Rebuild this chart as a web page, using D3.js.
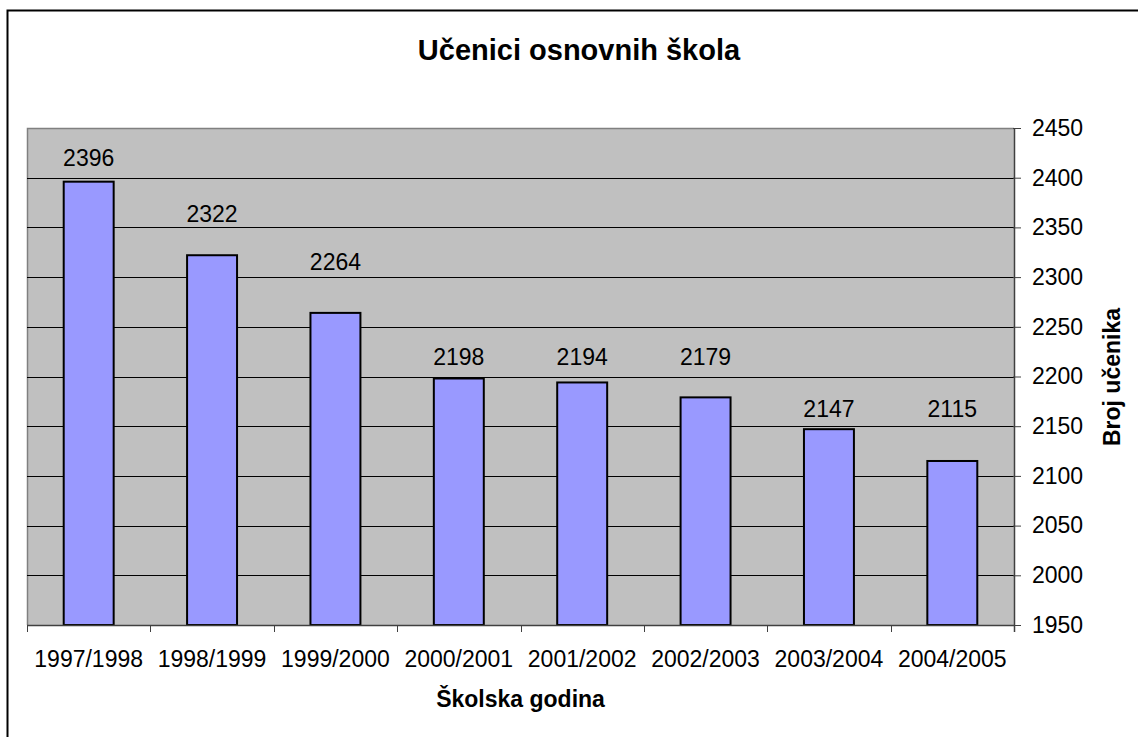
<!DOCTYPE html>
<html>
<head>
<meta charset="utf-8">
<script src="https://cdn.jsdelivr.net/npm/d3@7"></script>
<style>
  body { margin: 0; background: #fff; }
  text { font-family: Arial, "Liberation Sans", sans-serif; fill: #000; }
</style>
</head>
<body>
<div class="js-chart"></div>
<script>
let years = ['1997/1998', '1998/1999', '1999/2000', '2000/2001', '2001/2002', '2002/2003', '2003/2004', '2004/2005'];
let pupils = [2396, 2322, 2264, 2198, 2194, 2179, 2147, 2115];
// where each value label sits on the value axis
let labelLevels = [2412, 2355, 2307, 2212, 2212, 2212, 2159, 2159];
let yTicks = [1950, 2000, 2050, 2100, 2150, 2200, 2250, 2300, 2350, 2400, 2450];

let w = 1138, h = 737;
let plot = {left: 27, right: 1014, top: 128, bottom: 625};

let svg = d3.select('.js-chart').append('svg').attr('width', w).attr('height', h);

// outer frame
svg.append('rect')
  .attr('x', 7.5).attr('y', 10.5)
  .attr('width', w).attr('height', h)
  .style('fill', 'none').style('stroke', '#000').style('stroke-width', 2);

let x = d3.scaleBand().domain(years).range([plot.left, plot.right])
  .paddingInner(0.595).paddingOuter(0.2975);
let y = d3.scaleLinear().domain([1950, 2450]).range([plot.bottom, plot.top]);

svg.append('rect')
  .attr('x', plot.left).attr('y', plot.top)
  .attr('width', plot.right - plot.left).attr('height', plot.bottom - plot.top)
  .style('fill', '#c0c0c0');

// plot area border on top and left
svg.append('path')
  .attr('d', `M${plot.left + 0.5},${plot.bottom}V${plot.top + 0.5}H${plot.right}`)
  .style('fill', 'none').style('stroke', '#808080').style('stroke-width', 1.5);

// gridlines
svg.append('g').selectAll('line').data(yTicks.slice(1, -1)).join('line')
  .attr('x1', plot.left).attr('x2', plot.right)
  .attr('y1', d => Math.round(y(d)) + 0.5).attr('y2', d => Math.round(y(d)) + 0.5)
  .style('stroke', '#000').style('stroke-width', 1);

// bars
svg.append('g').selectAll('rect').data(pupils).join('rect')
  .attr('x', (d, i) => x(years[i]))
  .attr('y', d => y(d))
  .attr('width', x.bandwidth())
  .attr('height', d => y(1950) - y(d))
  .style('fill', '#9999ff')
  .style('stroke', '#000')
  .style('stroke-width', 2);

// value labels
svg.append('g').selectAll('text').data(pupils).join('text')
  .attr('x', (d, i) => x(years[i]) + x.bandwidth() / 2)
  .attr('y', (d, i) => y(labelLevels[i]))
  .attr('text-anchor', 'middle')
  .style('font-size', '23px')
  .text(d => d);

// right value axis
let yAxis = d3.axisRight(y).tickValues(yTicks).tickFormat(d3.format('d')).tickSize(7).tickPadding(11);
let yg = svg.append('g').attr('transform', `translate(${plot.right},0)`).call(yAxis);
yg.select('.domain').attr('d', `M0.5,${plot.top}V${plot.bottom + 7}`).style('stroke', '#404040').style('stroke-width', 1.5);
yg.selectAll('.tick line').attr('x1', -1).style('stroke', '#404040');
yg.selectAll('.tick text').style('font-size', '23px').style('font-family', 'Arial, "Liberation Sans", sans-serif');

// category axis
let xg = svg.append('g');
xg.append('line')
  .attr('x1', plot.left).attr('x2', plot.right)
  .attr('y1', plot.bottom + 0.5).attr('y2', plot.bottom + 0.5)
  .style('stroke', '#404040').style('stroke-width', 1.5);
let step = x.step();
let bounds = d3.range(years.length + 1).map(i => plot.left + i * step);
xg.selectAll('.sep').data(bounds).join('line')
  .attr('class', 'sep')
  .attr('x1', d => Math.round(d) + 0.5).attr('x2', d => Math.round(d) + 0.5)
  .attr('y1', plot.bottom).attr('y2', plot.bottom + 7)
  .style('stroke', '#404040');
xg.selectAll('text').data(years).join('text')
  .attr('x', d => x(d) + x.bandwidth() / 2)
  .attr('y', 667)
  .attr('text-anchor', 'middle')
  .style('font-size', '23px')
  .text(d => d);

// titles
svg.append('text')
  .attr('x', 579).attr('y', 60)
  .attr('text-anchor', 'middle')
  .style('font-size', '29px').style('font-weight', 'bold')
  .text('Učenici osnovnih škola');

svg.append('text')
  .attr('x', (plot.left + plot.right) / 2).attr('y', 707)
  .attr('text-anchor', 'middle')
  .style('font-size', '23px').style('font-weight', 'bold')
  .text('Školska godina');

svg.append('text')
  .attr('transform', 'translate(1120,377) rotate(-90)')
  .attr('text-anchor', 'middle')
  .style('font-size', '23px').style('font-weight', 'bold')
  .text('Broj učenika');
</script>
</body>
</html>
